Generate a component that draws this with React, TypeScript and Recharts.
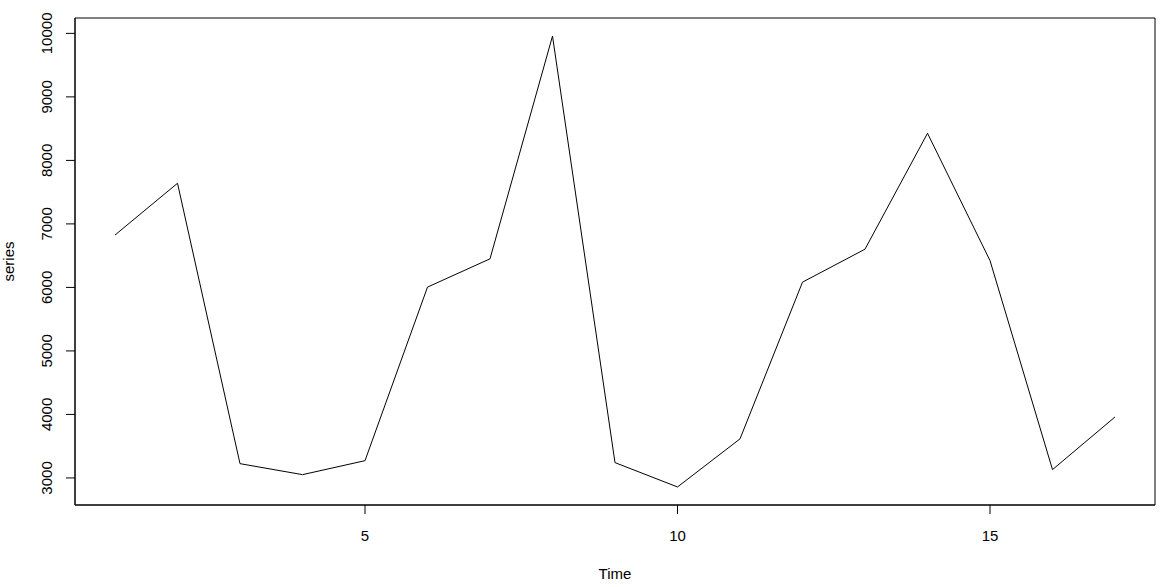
import React from "react";
import { LineChart, Line, XAxis, YAxis, CartesianGrid } from "recharts";

const times = [1, 2, 3, 4, 5, 6, 7, 8, 9, 10, 11, 12, 13, 14, 15, 16, 17];
const seriesValues = [
  6825, 7640, 3225, 3052, 3272, 6005, 6450, 9958, 3241, 2858, 3615, 6083, 6602, 8427, 6423, 3131, 3960,
];
const xTicks = [5, 10, 15];
const yTicks = [3000, 4000, 5000, 6000, 7000, 8000, 9000, 10000];

const data = times.map((t, i) => ({ time: t, series: seriesValues[i] }));

// R style: pad the data range by 4% on each side
const pad = (min: number, max: number): [number, number] => {
  const d = (max - min) * 0.04;
  return [min - d, max + d];
};
const xDomain = pad(Math.min(...times), Math.max(...times));
const yDomain = pad(Math.min(...seriesValues), Math.max(...seriesValues));

const FONT = "'Liberation Sans', Arial, sans-serif";

const YTick = (props: any) => {
  const { x, y, payload } = props;
  const tx = x - 12;
  return (
    <text
      x={tx}
      y={y}
      transform={`rotate(-90, ${tx}, ${y})`}
      textAnchor="middle"
      fontSize={15}
      fontFamily={FONT}
      fill="#000"
    >
      {payload.value}
    </text>
  );
};

const App: React.FC = () => {
  return (
    <div style={{ position: "absolute", left: 0, top: 0, width: 1166, height: 587, background: "#fff" }}>
      <LineChart
        width={1166}
        height={587}
        data={data}
        margin={{ top: 18, right: 11, bottom: 0, left: 0 }}
      >
        {/* plot box drawn as grid lines on the plot edges */}
        <CartesianGrid
          stroke="#000"
          strokeOpacity={1}
          horizontalCoordinatesGenerator={({ offset }: any) => [offset.top, offset.top + offset.height]}
          verticalCoordinatesGenerator={({ offset }: any) => [offset.left, offset.left + offset.width]}
        />
        <XAxis
          dataKey="time"
          type="number"
          domain={xDomain}
          ticks={xTicks}
          height={82}
          tickSize={9}
          tickMargin={16}
          allowDataOverflow
          stroke="#000"
          tick={{ fill: "#000", fontSize: 15, fontFamily: FONT }}
          label={({ viewBox }: any) => (
            <text
              x={viewBox.x + viewBox.width / 2}
              y={579}
              textAnchor="middle"
              fontSize={15}
              fontFamily={FONT}
              fill="#000"
            >
              Time
            </text>
          )}
        />
        <YAxis
          type="number"
          domain={yDomain}
          ticks={yTicks}
          width={75}
          tickSize={9}
          allowDataOverflow
          stroke="#000"
          tick={<YTick />}
          label={({ viewBox }: any) => {
            const cx = 14;
            const cy = viewBox.y + viewBox.height / 2;
            return (
              <text
                x={cx}
                y={cy}
                transform={`rotate(-90, ${cx}, ${cy})`}
                textAnchor="middle"
                fontSize={15}
                fontFamily={FONT}
                fill="#000"
              >
                series
              </text>
            );
          }}
        />
        <Line
          type="linear"
          dataKey="series"
          stroke="#000"
          strokeWidth={1}
          dot={false}
          activeDot={false}
          isAnimationActive={false}
        />
      </LineChart>
    </div>
  );
};

export default App;
